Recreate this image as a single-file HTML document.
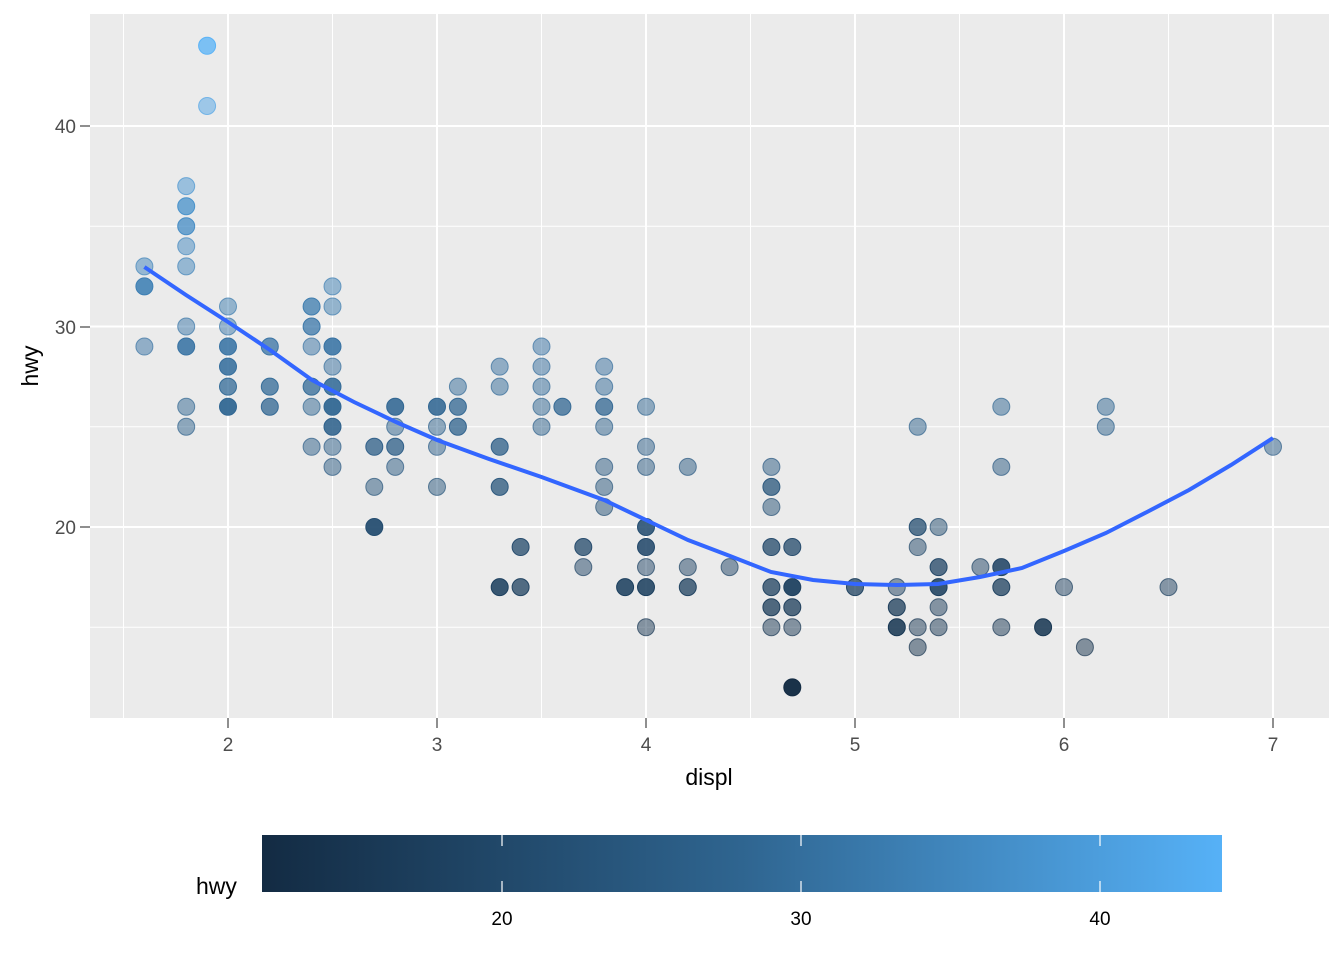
<!DOCTYPE html>
<html><head><meta charset="utf-8"><style>body{margin:0;background:#fff}svg{display:block}text{font-family:"Liberation Sans",Arial,sans-serif}</style></head>
<body>
<svg id="s" width="1344" height="960" viewBox="0 0 1344 960" xmlns="http://www.w3.org/2000/svg">
<defs><linearGradient id="g" x1="0" x2="1" y1="0" y2="0"><stop offset="0" stop-color="#132B43"/><stop offset="0.5" stop-color="#2F6590"/><stop offset="1" stop-color="#56B1F7"/></linearGradient></defs>
<rect x="90" y="14" width="1239" height="704" fill="#EBEBEB"/>
<g id="grid"></g>
<g id="pts"></g>
<polyline fill="none" stroke="#3366FF" stroke-width="4" points="144.4,267 186,295 228,322 270,350 312,380 354,402 396,422 437,440 489,459 541.5,477 604,500 646,520 688,540 730,556 771,572 813,580 855,584 897,585 938,584 980,577 1022,568 1064,551 1106,533 1147,512 1189,490 1231,465 1273,438"/>
<g font-size="19" fill="#4D4D4D" text-anchor="end">
<text x="76" y="534">20</text><text x="76" y="334">30</text><text x="76" y="133">40</text></g>
<g stroke="#333" stroke-width="1.1"><line x1="80" x2="90" y1="527" y2="527"/><line x1="80" x2="90" y1="327" y2="327"/><line x1="80" x2="90" y1="126" y2="126"/></g>
<g id="xt" font-size="19" fill="#4D4D4D" text-anchor="middle"></g>
<text x="709" y="785" font-size="23" text-anchor="middle" fill="#000">displ</text>
<text transform="translate(38,366) rotate(-90)" font-size="23" text-anchor="middle" fill="#000">hwy</text>
<rect x="262" y="835" width="960" height="57" fill="url(#g)"/>
<g stroke="#fff" stroke-width="1.2"><line x1="502" x2="502" y1="835" y2="846"/><line x1="502" x2="502" y1="881" y2="892"/><line x1="801" x2="801" y1="835" y2="846"/><line x1="801" x2="801" y1="881" y2="892"/><line x1="1100" x2="1100" y1="835" y2="846"/><line x1="1100" x2="1100" y1="881" y2="892"/></g>
<g font-size="19" fill="#000" text-anchor="middle"><text x="502" y="925">20</text><text x="801" y="925">30</text><text x="1100" y="925">40</text></g>
<text x="196" y="894" font-size="23" fill="#000">hwy</text>
</svg>
<script>
var NS="http://www.w3.org/2000/svg";
function X(d){return 228+(d-2)*209}function Y(h){return 527-(h-20)*20.05}
function el(p,t,a){var e=document.createElementNS(NS,t);for(var k in a)e.setAttribute(k,a[k]);p.appendChild(e);return e}
var g=document.getElementById('grid');
[15,25,35].forEach(function(h){el(g,'line',{x1:90,x2:1329,y1:Y(h),y2:Y(h),stroke:'#fff','stroke-width':1})});
[1.5,2.5,3.5,4.5,5.5,6.5].forEach(function(d){el(g,'line',{x1:X(d),x2:X(d),y1:14,y2:718,stroke:'#fff','stroke-width':1})});
[20,30,40].forEach(function(h){el(g,'line',{x1:90,x2:1329,y1:Y(h),y2:Y(h),stroke:'#fff','stroke-width':2})});
var xt=document.getElementById('xt');
[2,3,4,5,6,7].forEach(function(d){el(g,'line',{x1:X(d),x2:X(d),y1:14,y2:718,stroke:'#fff','stroke-width':2});
el(document.getElementById('s'),'line',{x1:X(d),x2:X(d),y1:718,y2:728,stroke:'#333','stroke-width':1.1});
el(xt,'text',{x:X(d),y:751}).textContent=d;});
var D={1.6:[[33,1],[32,3],[29,1]],1.8:[[37,1],[36,2],[35,2],[34,1],[33,1],[30,1],[29,3],[26,1],[25,1]],1.9:[[44,2],[41,1]],
2.0:[[31,1],[30,1],[29,3],[28,3],[27,2],[26,4]],2.2:[[29,2],[27,2],[26,2]],2.4:[[31,2],[30,2],[29,1],[27,2],[26,1],[24,1]],
2.5:[[32,1],[31,1],[29,3],[28,1],[27,3],[26,4],[25,3],[24,1],[23,1]],2.7:[[24,2],[22,1],[20,4]],2.8:[[26,3],[25,1],[24,2],[23,1]],
3.0:[[26,3],[25,1],[24,1],[22,1]],3.1:[[27,1],[26,2],[25,2]],3.3:[[28,1],[27,1],[24,2],[22,2],[17,3]],3.4:[[19,2],[17,2]],
3.5:[[29,1],[28,1],[27,1],[26,1],[25,1]],3.6:[[26,2]],3.7:[[19,2],[18,1]],3.8:[[28,1],[27,1],[26,2],[25,1],[23,1],[22,1],[21,1]],
3.9:[[17,3]],4.0:[[26,1],[24,1],[23,1],[20,3],[19,3],[18,1],[17,3],[15,1]],4.2:[[23,1],[18,1],[17,2]],4.4:[[18,1]],
4.6:[[23,1],[22,2],[21,1],[19,2],[17,2],[16,2],[15,1]],4.7:[[19,2],[17,4],[16,2],[15,1],[12,5]],5.0:[[17,2]],
5.2:[[17,1],[16,2],[15,3]],5.3:[[25,1],[20,2],[19,1],[15,1],[14,1]],5.4:[[20,1],[18,2],[17,3],[16,1],[15,1]],5.6:[[18,1]],
5.7:[[26,1],[23,1],[18,3],[17,2],[15,1]],5.9:[[15,3]],6.0:[[17,1]],6.1:[[14,1]],6.2:[[26,1],[25,1]],6.5:[[17,1]],7.0:[[24,1]]};
var c0=[19,43,67],c1=[86,177,247];
function col(h){var t=(h-12)/32;return 'rgb('+c0.map(function(a,i){return Math.round(a+(c1[i]-a)*t)}).join(',')+')'}
var P=document.getElementById('pts');
for(var d in D){D[d].forEach(function(p){var o=1-Math.pow(0.5,p[1]);var c=col(p[0]);
el(P,'circle',{cx:X(+d),cy:Y(p[0]),r:8.5,fill:c,'fill-opacity':o,stroke:c,'stroke-opacity':Math.min(1,o+0.2),'stroke-width':1});});}
</script>
</body></html>
